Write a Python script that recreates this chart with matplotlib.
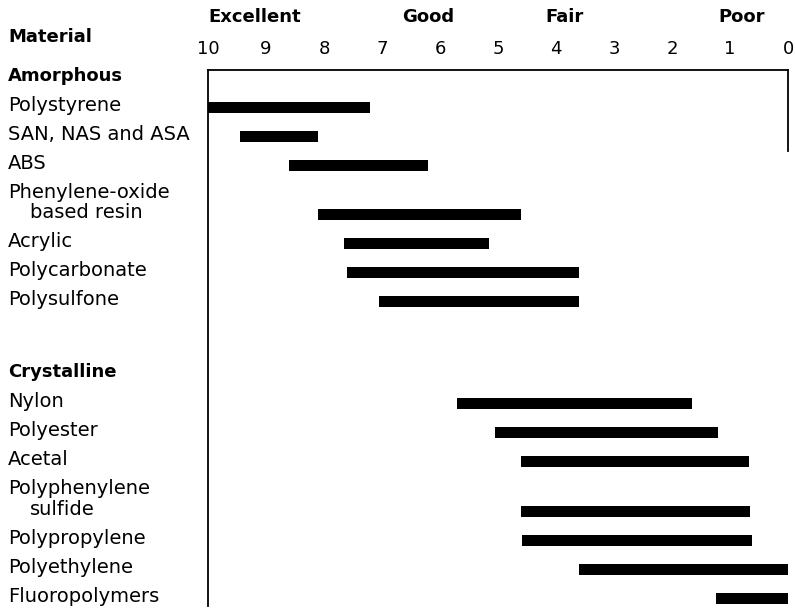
import matplotlib.pyplot as plt
from matplotlib import rcParams
from matplotlib.transforms import blended_transform_factory

rcParams.update({"font.family": "DejaVu Sans"})

# ratings, 10 = excellent ... 0 = poor
amorphous = ['Polystyrene', 'SAN, NAS and ASA', 'ABS', 'Phenylene-oxide\nbased resin',
             'Acrylic', 'Polycarbonate', 'Polysulfone']
amorphous_start = [10.0, 9.45, 8.6, 8.1, 7.65, 7.6, 7.05]
amorphous_end = [7.2, 8.1, 6.2, 4.6, 5.15, 3.6, 3.6]

crystalline = ['Nylon', 'Polyester', 'Acetal', 'Polyphenylene\nsulfide',
               'Polypropylene', 'Polyethylene', 'Fluoropolymers']
crystalline_start = [5.7, 5.05, 4.6, 4.6, 4.58, 3.6, 1.25]
crystalline_end = [1.65, 1.2, 0.68, 0.65, 0.62, 0.0, 0.0]

ticks = [10, 9, 8, 7, 6, 5, 4, 3, 2, 1, 0]
grades = ['Excellent', 'Good', 'Fair', 'Poor']
grade_pos = [9.2, 6.2, 3.85, 0.8]

groups = [('Amorphous', amorphous, amorphous_start, amorphous_end),
          ('Crystalline', crystalline, crystalline_start, crystalline_end)]

fig = plt.figure(figsize=(7.95, 6.08), dpi=100)
ax = fig.add_axes([208/795, 2/608, 580/795, 536/608])

fs = 14
fb = 13
lbl = blended_transform_factory(fig.transFigure, ax.transData)
x_text = 8/795

# walk down the rows line by line
y = 0.0
for g, (head, names, start, end) in enumerate(groups):
    if g > 0:
        y += 2.5
    ax.text(x_text, y, head, transform=lbl, fontsize=fb, fontweight='bold',
            va='center', ha='left', clip_on=False)
    for name, s, e in zip(names, start, end):
        y += 1
        lines = name.split('\n')
        ax.text(x_text, y, lines[0], transform=lbl, fontsize=fs,
                va='center', ha='left', clip_on=False)
        if len(lines) > 1:
            y += 0.72
            ax.text(x_text + 22/795, y, lines[1], transform=lbl, fontsize=fs,
                    va='center', ha='left', clip_on=False)
        ax.barh(y + 0.07, s - e, left=e, height=0.38, color='black')

ax.text(x_text, -1.34, 'Material', transform=lbl, fontsize=fb, fontweight='bold',
        va='center', ha='left', clip_on=False)
for gname, gx in zip(grades, grade_pos):
    ax.text(gx, -2.05, gname, fontsize=fb, fontweight='bold',
            va='center', ha='center', clip_on=False)

ax.set_xlim(10, 0)
ax.set_ylim(18.28, -0.21)
ax.set_xticks(ticks)
ax.set_xticklabels([str(t) for t in ticks], fontsize=fb)
ax.xaxis.tick_top()
ax.tick_params(axis='x', length=0, pad=9)
ax.set_yticks([])

ax.spines['bottom'].set_visible(False)
ax.spines['right'].set_bounds(-0.21, 2.6)
for s in ['top', 'left', 'right']:
    ax.spines[s].set_linewidth(1.3)

plt.savefig('out.png', dpi=100)
